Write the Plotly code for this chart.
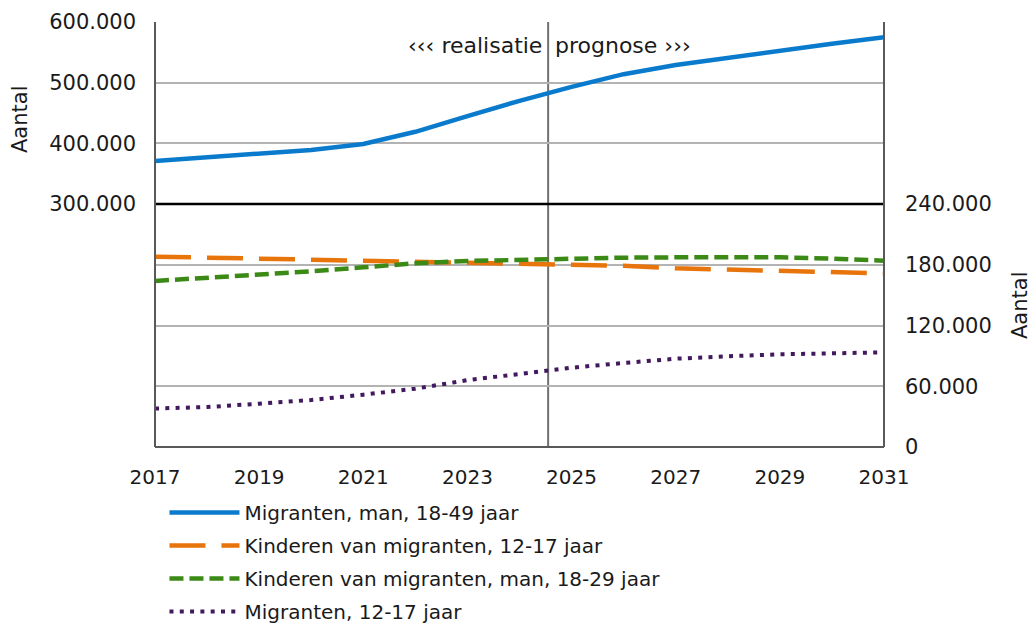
import plotly.graph_objects as go

years = list(range(2017, 2032))
migranten_man_18_49 = [371000, 377000, 384000, 389000, 399000, 419000, 445000, 470000,
                       493000, 514000, 529000, 541000, 552000, 564000, 575000]
kinderen_12_17 = [188000, 187000, 186000, 185000, 185000, 184000, 183000, 182000,
                  181000, 179000, 176500, 175000, 174000, 172500, 171500]
kinderen_man_18_29 = [164000, 167000, 169500, 173500, 177500, 181400, 183700, 185000,
                      186400, 187000, 187300, 187300, 187300, 186000, 184000]
migranten_12_17 = [38000, 39500, 42800, 46400, 51700, 57600, 66000, 71800,
                   78300, 83000, 87200, 89600, 91600, 92500, 93500]

split_year = 2024.55
FONT = "DejaVu Sans"
TXT = "#1a1a1a"
GRID = "#b3b3b3"
BORDER = "#595959"

fig = go.Figure()
fig.add_trace(go.Scatter(x=years, y=migranten_man_18_49, yaxis="y2", mode="lines",
                         name="Migranten, man, 18-49 jaar", legendgroup="a",
                         line=dict(color="#0a7bcc", width=4.5)))
fig.add_trace(go.Scatter(x=years, y=kinderen_12_17, mode="lines",
                         name="Kinderen van migranten, 12-17 jaar", legendgroup="b",
                         line=dict(color="#e8740c", width=4.5, dash="36px,16px")))
fig.add_trace(go.Scatter(x=years, y=kinderen_man_18_29, mode="lines",
                         name="Kinderen van migranten, man, 18-29 jaar", legendgroup="c",
                         line=dict(color="#3b8a16", width=4.5, dash="14px,6px")))
fig.add_trace(go.Scatter(x=years, y=migranten_12_17, mode="lines",
                         name="Migranten, 12-17 jaar", legendgroup="d",
                         line=dict(color="#42185e", width=4, dash="4px,6.3px")))

split = (447 - 204) / 425

fig.update_layout(
    width=1031, height=624,
    margin=dict(l=155, r=147, t=22, b=177, autoexpand=False),
    paper_bgcolor="white", plot_bgcolor="white",
    separators=",.",
    font=dict(family=FONT, size=20, color=TXT),
    showlegend=True,
    legend=dict(x=0.013, y=-0.108, xanchor="left", yanchor="top",
                traceorder="grouped", tracegroupgap=4, itemwidth=70,
                font=dict(family=FONT, size=20, color=TXT), bgcolor="rgba(0,0,0,0)"),
    xaxis=dict(range=[2017, 2031], tickvals=[2017, 2019, 2021, 2023, 2025, 2027, 2029, 2031],
               showgrid=False, zeroline=False, showline=False, anchor="y", automargin=False,
               ticks="", ticklabelstandoff=16, tickfont=dict(size=20)),
    yaxis=dict(domain=[0, split], range=[0, 240000], tickvals=[0, 60000, 120000, 180000, 240000],
               tickformat=",d", side="right", anchor="x", showgrid=True, gridcolor=GRID,
               gridwidth=2, zeroline=False, showline=False, ticks="", automargin=False,
               ticklabelstandoff=20, tickfont=dict(size=21)),
    yaxis2=dict(domain=[split, 1], range=[300000, 600000],
                tickvals=[300000, 400000, 500000, 600000], tickformat=",d", side="left",
                anchor="x", showgrid=True, gridcolor=GRID, gridwidth=2, zeroline=False,
                showline=False, ticks="", automargin=False,
                ticklabelstandoff=18, tickfont=dict(size=21)),
)

# panel separator (black) and borders
fig.add_shape(type="line", xref="paper", yref="paper", x0=0, x1=1, y0=split, y1=split,
              line=dict(color="black", width=2.5), layer="above")
fig.add_shape(type="line", xref="paper", yref="paper", x0=0, x1=0, y0=0, y1=1,
              line=dict(color=BORDER, width=2), layer="above")
fig.add_shape(type="line", xref="paper", yref="paper", x0=1, x1=1, y0=0, y1=1,
              line=dict(color=BORDER, width=2), layer="above")
fig.add_shape(type="line", xref="paper", yref="paper", x0=0, x1=1, y0=0, y1=0,
              line=dict(color=BORDER, width=2), layer="above")
fig.add_shape(type="line", xref="x", yref="paper", x0=split_year, x1=split_year, y0=0, y1=1,
              line=dict(color="#707070", width=2), layer="below")

fig.add_annotation(x=split_year, y=1, xref="x", yref="paper", text="‹‹‹ realisatie",
                   showarrow=False, xanchor="right", yanchor="top", xshift=-4, yshift=-9,
                   font=dict(family=FONT, size=22, color=TXT))
fig.add_annotation(x=split_year, y=1, xref="x", yref="paper", text="prognose ›››",
                   showarrow=False, xanchor="left", yanchor="top", xshift=5, yshift=-9,
                   font=dict(family=FONT, size=22, color=TXT))

# axis titles
fig.add_annotation(x=-135 / 729, y=(447 - 120) / 425, xref="paper", yref="paper",
                   text="Aantal", showarrow=False, textangle=-90,
                   xanchor="center", yanchor="middle",
                   font=dict(family=FONT, size=21, color=TXT))
fig.add_annotation(x=(1020 - 155) / 729, y=(447 - 305) / 425, xref="paper", yref="paper",
                   text="Aantal", showarrow=False, textangle=-90,
                   xanchor="center", yanchor="middle",
                   font=dict(family=FONT, size=21, color=TXT))

fig.write_html("out.html", config={"displayModeBar": False},
               post_script="document.body.style.margin='0px';document.body.style.padding='0px';")
